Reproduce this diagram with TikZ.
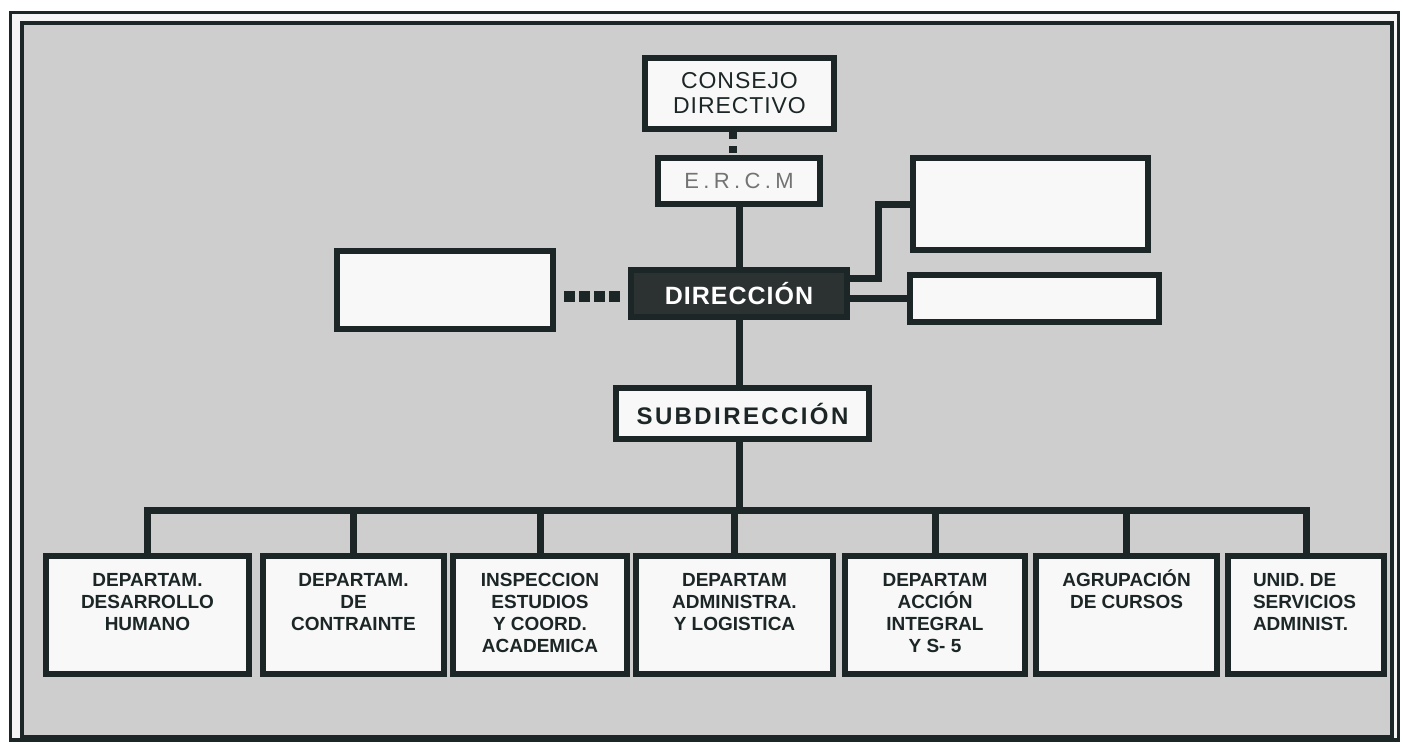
\documentclass[tikz,border=0pt]{standalone}
\usepackage{fontspec}
\setmainfont{Liberation Sans}
\usetikzlibrary{calc}
\definecolor{ink}{RGB}{28,38,38}
\definecolor{paper}{RGB}{206,206,206}
\definecolor{boxw}{RGB}{248,248,248}
\definecolor{dirk}{RGB}{44,50,50}
\definecolor{ercmg}{RGB}{115,115,115}
\newcommand{\bt}[3][\centering]{\parbox[c][94pt][t]{#2}{#1\rule{0pt}{18pt}#3}}

\begin{document}
\begin{tikzpicture}[x=1pt,y=-1pt,
bx/.style={draw=ink, fill=boxw, line width=6pt, inner sep=0pt, text=ink},
bd/.style={bx, minimum height=118pt, font=\bfseries\fontsize{19}{22}\selectfont},
ln/.style={draw=ink, line width=7pt},
]
\useasboundingbox (0,0) rectangle (1402,744);
\fill[white!92!gray] (10.5,12.5) rectangle (1398.5,740);
\fill[paper] (21.5,22.5) rectangle (1392,736.5);
\draw[ink, line width=3.5pt] (10.5,12.5) rectangle (1398.5,740);
\draw[ink, line width=4pt] (21.5,22.5) rectangle (1392,736.5);

\node[bx, minimum width=189pt, minimum height=71pt, align=center, font=\fontsize{23}{25}\selectfont\addfontfeatures{LetterSpace=4}] (cd) at (739.5,93.5) {CONSEJO\\DIRECTIVO};
\node[bx, minimum width=162pt, minimum height=46pt, text=ercmg, font=\fontsize{22}{26}\selectfont\addfontfeatures{LetterSpace=20}] (ercm) at (739,181) {E.R.C.M};
\node[bx, fill=dirk, text=white, minimum width=216pt, minimum height=47pt, font=\bfseries\fontsize{25}{30}\selectfont\addfontfeatures{LetterSpace=4}] (dir) at (739,293.5) {DIRECCIÓN};
\node[bx, minimum width=216pt, minimum height=78pt] (lbox) at (445,290) {};
\node[bx, minimum width=235pt, minimum height=92pt] (rbox1) at (1030.5,204) {};
\node[bx, minimum width=249pt, minimum height=47pt] (rbox2) at (1034.5,298.5) {};
\node[bx, minimum width=253pt, minimum height=51pt, font=\bfseries\fontsize{24}{28}\selectfont\addfontfeatures{LetterSpace=10}] (sub) at (742.5,413.5) {SUBDIRECCIÓN};

\node[bd, minimum width=203pt] (b1) at (147.5,615) {\bt{160pt}{DEPARTAM.\\DESARROLLO\\HUMANO}};
\node[bd, minimum width=181pt] (b2) at (353.5,615) {\bt{160pt}{DEPARTAM.\\DE\\CONTRAINTE}};
\node[bd, minimum width=174pt] (b3) at (540,615) {\bt{160pt}{INSPECCION\\ESTUDIOS\\Y COORD.\\ACADEMICA}};
\node[bd, minimum width=197pt] (b4) at (734.5,615) {\bt{160pt}{DEPARTAM\\ADMINISTRA.\\Y LOGISTICA}};
\node[bd, minimum width=180pt] (b5) at (935,615) {\bt{160pt}{DEPARTAM\\ACCIÓN\\INTEGRAL\\Y S- 5}};
\node[bd, minimum width=181pt] (b6) at (1126.5,615) {\bt{160pt}{AGRUPACIÓN\\DE CURSOS}};
\node[bd, minimum width=156pt] (b7) at (1306,615) {\bt[\raggedright]{106pt}{UNID. DE\\SERVICIOS\\ADMINIST.}};

\coordinate (bus) at (737,510);

\draw[ln, line width=8pt, dash pattern=on 7pt off 7pt] ([xshift=-7pt]cd.south) -- ([xshift=-7pt]cd.south |- ercm.north);
\draw[ln] (ercm) -- (dir);
\draw[ln] (dir.south) -- (dir.south |- sub.north);
\draw[ln] (dir.south |- sub.south) -- (dir.south |- bus);
\draw[ln] ([yshift=15.5pt]dir.east) -- ++(28,0) |- (rbox1.west);
\draw[ln] (dir.east |- rbox2) -- (rbox2.west);
\draw[ln, line width=11pt, dash pattern=on 11pt off 4pt] ([xshift=8pt,yshift=-3pt]lbox.east |- dir) -- ([xshift=-8pt,yshift=-3pt]dir.west);
\draw[ln, line join=miter] (b1.north) -- (b1.north |- bus) -- (b7.north |- bus) -- (b7.north);
\foreach \i in {2,...,6}
  \draw[ln] (b\i.north) -- (b\i.north |- bus);
\end{tikzpicture}
\end{document}
